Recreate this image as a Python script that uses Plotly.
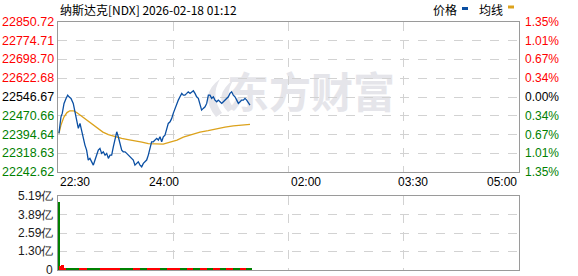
import plotly.graph_objects as go

# ---------------- data ----------------
title_text = "纳斯达克[NDX] 2026-02-18 01:12"
prev_close = 22546.67
price_levels = [22850.72, 22774.71, 22698.70, 22622.68, 22546.67, 22470.66, 22394.64, 22318.63, 22242.62]
pct_labels = ["1.35%", "1.01%", "0.67%", "0.34%", "0.00%", "0.34%", "0.67%", "1.01%", "1.35%"]
vol_levels = [5.19, 3.89, 2.59, 1.30, 0]
vol_labels = ["5.19亿", "3.89亿", "2.59亿", "1.30亿", "0"]
time_labels = ["22:30", "24:00", "02:00", "03:30", "05:00"]
time_label_pos = [0, 90, 210, 300, 390]   # minutes after 22:30
session_minutes = 390

price_min = [0.8, 2.5, 3.6, 5.1, 6.8, 8.2, 9.3, 11.0, 12.9, 14.4, 15.8, 17.2, 18.6, 20.0, 21.4, 22.8,
             24.2, 25.6, 27.0, 28.5, 29.9, 31.3, 32.7, 34.1, 35.5, 36.9, 38.3, 39.8, 41.2, 42.6, 44.0,
             45.4, 46.8, 48.2, 49.7, 51.0, 52.5, 53.9, 55.2, 56.7, 58.1, 59.5, 60.9, 62.4, 63.7, 65.1,
             66.6, 67.9, 69.4, 70.8, 72.2, 73.6, 75.0, 76.4, 77.8, 79.2, 80.6, 82.1, 83.5, 84.9, 86.3,
             87.7, 89.1, 90.5, 92.0, 93.3, 94.8, 96.2, 97.5, 99.0, 100.4, 101.8, 103.2, 104.7, 106.0,
             107.4, 108.9, 110.2, 111.7, 113.1, 114.5, 115.9, 117.3, 118.7, 120.1, 121.5, 122.9, 124.4,
             125.8, 127.2, 128.6, 130.0, 131.4, 132.8, 134.3, 135.6, 137.1, 138.5, 139.9, 141.3, 142.7,
             144.1, 145.5, 146.9, 148.3, 149.7, 151.2, 152.6, 154.0, 155.4, 156.8, 158.2, 159.6, 161.0,
             162.4]
price_val = [22399.8, 22466.7, 22480.5, 22520.8, 22541.0, 22554.3, 22547.5, 22541.0, 22520.8, 22480.5,
             22453.4, 22419.9, 22440.0, 22406.2, 22386.0, 22352.5, 22332.3, 22292.0, 22298.8, 22285.0,
             22271.7, 22292.0, 22312.1, 22332.3, 22339.2, 22319.0, 22325.4, 22312.1, 22319.0, 22298.8,
             22312.1, 22312.1, 22345.6, 22379.5, 22406.2, 22386.0, 22352.5, 22332.3, 22325.4, 22325.4,
             22319.0, 22312.1, 22305.3, 22298.8, 22292.0, 22271.7, 22278.6, 22285.0, 22271.7, 22264.9,
             22278.6, 22285.0, 22292.0, 22312.1, 22339.2, 22365.8, 22365.8, 22372.7, 22379.5, 22372.7,
             22386.0, 22365.8, 22386.0, 22392.9, 22419.9, 22440.0, 22446.6, 22460.3, 22480.5, 22500.6,
             22520.8, 22534.1, 22547.5, 22561.2, 22554.3, 22554.3, 22561.2, 22567.7, 22561.2, 22567.7,
             22571.7, 22561.2, 22547.5, 22541.0, 22514.0, 22493.8, 22500.6, 22507.1, 22520.8, 22554.3,
             22554.3, 22541.0, 22547.5, 22534.1, 22527.3, 22534.1, 22527.3, 22520.8, 22527.3, 22534.1,
             22541.0, 22547.5, 22561.2, 22567.7, 22554.3, 22547.5, 22534.1, 22520.8, 22527.3, 22534.1,
             22534.1, 22541.0, 22534.1, 22520.8, 22514.0]

avg_min = [0.8, 2.5, 5.0, 7.6, 10.0, 13.0, 15.8, 18.6, 22.0, 25.6, 29.6, 34.0, 38.0, 42.6, 48.2, 53.9,
           59.2, 65.0, 71.0, 76.4, 82.0, 89.0, 94.8, 100.7, 106.0, 113.4, 120.1, 127.0, 134.3, 141.3,
           148.3, 155.7, 162.4]
avg_val = [22399.8, 22433.2, 22465.5, 22483.7, 22491.0, 22491.0, 22483.7, 22473.6, 22459.5, 22447.4,
           22433.2, 22417.1, 22405.0, 22394.9, 22386.8, 22379.5, 22374.7, 22370.7, 22364.6, 22358.6,
           22356.5, 22356.5, 22364.6, 22372.7, 22384.8, 22394.9, 22405.0, 22411.0, 22419.1, 22425.2,
           22430.4, 22434.4, 22436.1]

# volume per minute (亿), minute 1..163
vol_val = [4.77, 0.30, 0.35, 0.35, 0.10, 0.16, 0.10, 0.10, 0.09, 0.10, 0.10, 0.12, 0.10, 0.10, 0.10,
           0.10, 0.16, 0.10, 0.10, 0.11, 0.10, 0.10, 0.16, 0.10, 0.10, 0.11, 0.10, 0.10, 0.10, 0.11,
           0.10, 0.10, 0.10, 0.11, 0.10, 0.10, 0.11, 0.10, 0.10, 0.10, 0.11, 0.10, 0.10, 0.10, 0.11,
           0.10, 0.10, 0.11, 0.10, 0.10, 0.10, 0.10, 0.11, 0.10, 0.10, 0.10, 0.10, 0.11, 0.10, 0.10,
           0.10, 0.11, 0.10, 0.10, 0.10, 0.10, 0.11, 0.10, 0.10, 0.10, 0.11, 0.10, 0.10, 0.10, 0.10,
           0.11, 0.10, 0.10, 0.10, 0.11, 0.10, 0.10, 0.10, 0.11, 0.10, 0.10, 0.10, 0.10, 0.11, 0.10,
           0.10, 0.10, 0.11, 0.10, 0.10, 0.10, 0.10, 0.11, 0.10, 0.10, 0.10, 0.11, 0.10, 0.10, 0.10,
           0.10, 0.11, 0.10, 0.10, 0.10, 0.11, 0.10, 0.10, 0.10, 0.10, 0.11, 0.10, 0.10, 0.10, 0.11,
           0.10, 0.10, 0.10, 0.10, 0.11, 0.10, 0.10, 0.10, 0.11, 0.10, 0.10, 0.10, 0.10, 0.11, 0.10,
           0.10, 0.10, 0.11, 0.10, 0.10, 0.10, 0.10, 0.11, 0.10, 0.10, 0.10, 0.11, 0.10, 0.10, 0.10,
           0.10, 0.11, 0.10, 0.10, 0.10, 0.11, 0.10, 0.10, 0.10, 0.10, 0.11, 0.10, 0.10]
vol_dir = ("g" + "rrrrrr" + "ggggggggggg" + "rrrrrr" + "ggggggggggg" + "rrrrrrrrrrrrrrrrr"
           + "ggggggggggg" + "rrrrrr" + "gggggg" + "rrrrrrrrrrr" + "gggggg" + "rrrrrrrrrrr"
           + "gggggg" + "rrrrr" + "gggggg" + "rrrrrr" + "ggggg" + "rrrrrr" + "ggggg" + "rrrrrr"
           + "gggggg" + "rrrrr" + "gggg")
vol_min = list(range(1, len(vol_val) + 1))

# ---------------- styling ----------------
W, H = 578, 276
RED, GREEN, BLACK = "#ff0000", "#008000", "#000000"
BLUE_LINE, AVG_LINE = "#0a4fa3", "#dca21c"
GRID, BORDER = "#d2d2d2", "#9a9a9a"
WM = "#e5e5ea"
NUM_FONT = "Liberation Sans, Arial, sans-serif"
CJK_FONT = "Noto Sans CJK SC, sans-serif"

def px_x(p):
    return p / W

def px_y(p):
    return 1 - p / H

x_dom = [px_x(58), px_x(519)]
y_main = [px_y(172.3), px_y(21.7)]
y_vol = [px_y(270), px_y(196)]
quarters = [session_minutes * k / 4 for k in (1, 2, 3)]

fig = go.Figure()

fig.add_trace(go.Bar(
    x=vol_min, y=vol_val, xaxis="x2", yaxis="y2",
    marker=dict(color=[RED if d == "r" else GREEN for d in vol_dir], line=dict(width=0)),
    width=0.9, hoverinfo="skip", showlegend=False))

fig.add_trace(go.Scatter(
    x=avg_min, y=avg_val, mode="lines", line=dict(color=AVG_LINE, width=1.3),
    hoverinfo="skip", showlegend=False))
fig.add_trace(go.Scatter(
    x=price_min, y=price_val, mode="lines", line=dict(color=BLUE_LINE, width=1.3),
    hoverinfo="skip", showlegend=False))

axis_common = dict(showline=True, mirror=True, linecolor=BORDER, linewidth=1.2,
                   zeroline=False, showticklabels=False, ticks="",
                   gridcolor=GRID, griddash="dash", gridwidth=1, fixedrange=True)

fig.update_layout(
    width=W, height=H, margin=dict(l=0, r=0, t=0, b=0),
    paper_bgcolor="white", plot_bgcolor="rgba(0,0,0,0)", bargap=0,
    xaxis=dict(domain=x_dom, range=[0, session_minutes], tickvals=quarters, anchor="y", **axis_common),
    yaxis=dict(domain=y_main, range=[price_levels[-1], price_levels[0]],
               tickvals=price_levels[1:-1], anchor="x", **axis_common),
    xaxis2=dict(domain=x_dom, range=[0, session_minutes], tickvals=quarters, anchor="y2", **axis_common),
    yaxis2=dict(domain=y_vol, range=[0, vol_levels[0]], tickvals=vol_levels[1:-1], anchor="x2", **axis_common),
)

ann = []
# title
ann.append(dict(text=title_text, x=px_x(58), y=px_y(9.5), xref="paper", yref="paper",
                showarrow=False, font=dict(family=CJK_FONT, size=12, color=BLACK),
                xanchor="left", yanchor="middle"))
# legend
ann.append(dict(text="价格", x=px_x(431), y=px_y(9.5), xref="paper", yref="paper", showarrow=False,
                font=dict(family=CJK_FONT, size=12, color=BLACK), xanchor="left", yanchor="middle"))
ann.append(dict(text="均线", x=px_x(477), y=px_y(9.5), xref="paper", yref="paper", showarrow=False,
                font=dict(family=CJK_FONT, size=12, color=BLACK), xanchor="left", yanchor="middle"))

# price + percent labels
for lv, pl in zip(price_levels, pct_labels):
    col = RED if lv > prev_close + 0.01 else (GREEN if lv < prev_close - 0.01 else BLACK)
    ann.append(dict(text=f"{lv:.2f}", x=px_x(55.5), y=lv, xref="paper", yref="y", showarrow=False,
                    font=dict(family=NUM_FONT, size=12.5, color=col), xanchor="right", yanchor="middle"))
    ann.append(dict(text=pl, x=px_x(523), y=lv, xref="paper", yref="y", showarrow=False,
                    font=dict(family=NUM_FONT, size=12, color=col), xanchor="left", yanchor="middle"))

# time labels
for t, pos in zip(time_labels, time_label_pos):
    anchor = "left" if pos == 0 else ("right" if pos == session_minutes else "center")
    ann.append(dict(text=t, x=pos, y=px_y(182), xref="x", yref="paper", showarrow=False,
                    font=dict(family=NUM_FONT, size=12, color=BLACK), xanchor=anchor, yanchor="middle"))

# volume labels
for lv, lb in zip(vol_levels, vol_labels):
    ann.append(dict(text=lb, x=px_x(54.5), y=lv, xref="paper", yref="y2", showarrow=False,
                    font=dict(family=NUM_FONT, size=12, color="#1a1a1a"), xanchor="right", yanchor="middle"))

fig.update_layout(annotations=ann)

# legend squares
fig.add_shape(type="rect", xref="paper", yref="paper", x0=px_x(462), x1=px_x(468),
              y0=px_y(10), y1=px_y(7), fillcolor=BLUE_LINE, line=dict(width=0))
fig.add_shape(type="rect", xref="paper", yref="paper", x0=px_x(508), x1=px_x(514),
              y0=px_y(8.5), y1=px_y(5.5), fillcolor=AVG_LINE, line=dict(width=0))

# watermark text (drawn beneath the traces)
fig.add_shape(type="rect", xref="paper", yref="paper", x0=px_x(236), x1=px_x(386),
              y0=px_y(117), y1=px_y(76), fillcolor="rgba(0,0,0,0)", line=dict(width=0),
              layer="below",
              label=dict(text="<b>东方财富</b>", textposition="middle center",
                         font=dict(family=CJK_FONT, size=42, color=WM)))

# watermark logo (decorative swoosh)
path = ("M {0},{1} Q {2},{3} {4},{5} L {6},{7} Q {8},{9} {10},{11} Z").format(
    px_x(220), px_y(79), px_x(198), px_y(95), px_x(216), px_y(117),
    px_x(222), px_y(113), px_x(210), px_y(96), px_x(220), px_y(79))
fig.add_shape(type="path", xref="paper", yref="paper", path=path,
              fillcolor=WM, line=dict(width=0), layer="below")
path2 = ("M {0},{1} Q {2},{3} {4},{5} L {6},{7} Q {8},{9} {10},{11} Z").format(
    px_x(234), px_y(79), px_x(212), px_y(96), px_x(228), px_y(112),
    px_x(234), px_y(108), px_x(223), px_y(96), px_x(234), px_y(79))
fig.add_shape(type="path", xref="paper", yref="paper", path=path2,
              fillcolor=WM, line=dict(width=0), layer="below")

fig.write_html("out.html", config={"displayModeBar": False})
